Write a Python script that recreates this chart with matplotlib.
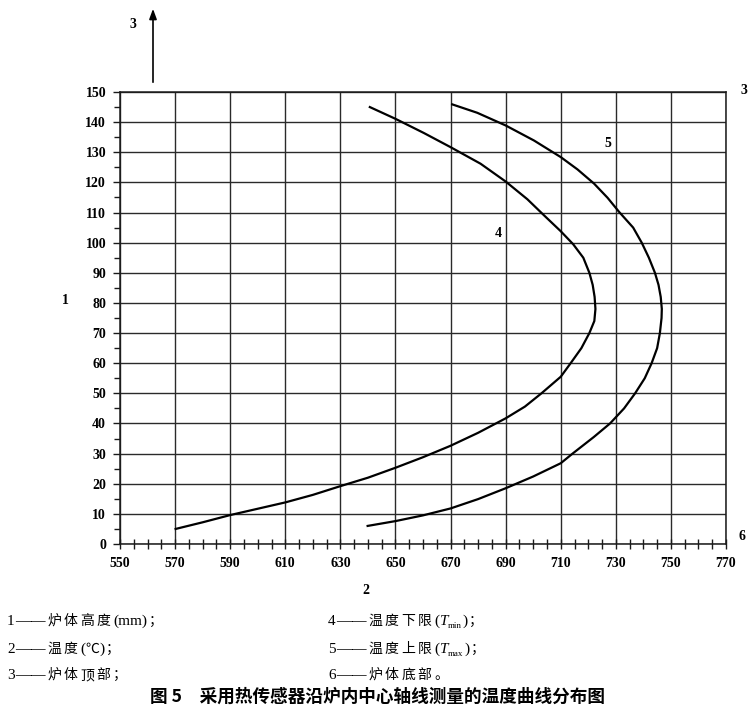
import matplotlib
matplotlib.use("Agg")
import matplotlib.pyplot as plt
from matplotlib.ticker import MultipleLocator
from matplotlib.patches import FancyArrowPatch

plt.rcParams['font.family'] = ['Liberation Serif', 'Noto Sans CJK SC']
plt.rcParams['mathtext.fontset'] = 'stix'

# Data: lower limit (curve 4) and upper limit (curve 5)
tmin_temp = [570.2, 580, 590, 600, 610, 620, 630, 640, 650, 660, 670, 680, 690, 697, 703, 710,
             713.6, 717.5, 720.4, 722.2, 722.6, 722.3, 721.6, 720.4, 718.2, 714.5, 710,
             703.9, 697.9, 690, 680.9, 670, 660.3, 650, 640.7]
tmin_h = [5.0, 7.2, 9.6, 11.7, 13.8, 16.3, 19.2, 22.0, 25.3, 28.8, 32.6, 36.9, 41.7, 45.6, 50.0, 55.5,
          60.0, 65.0, 70.0, 74.0, 78.0, 82.0, 86.0, 90.0, 95.0, 99.5, 103.8,
          109.1, 114.4, 120.3, 126.2, 131.7, 136.4, 141.1, 145.0]

tmax_temp = [639.9, 650, 660, 670, 680, 690, 700, 710, 714.3, 722, 727.9, 733, 737, 740.5,
             743, 745, 746, 746.6, 746.7, 746.3, 745.5, 744.2, 742, 739.4, 736.3, 731.2,
             727, 722.1, 716.1, 710, 700.3, 690, 679.7, 670.6]
tmax_h = [6.0, 7.6, 9.5, 11.8, 14.9, 18.5, 22.4, 26.8, 30.0, 35.5, 40.0, 45.0, 50.0, 55.0,
          60.0, 65.0, 70.0, 75.0, 78.0, 82.0, 86.0, 90.0, 95.0, 100.0, 105.0, 110.2,
          114.9, 119.6, 124.3, 128.4, 133.9, 138.9, 143.1, 145.9]

x_ticks = [550, 570, 590, 610, 630, 650, 670, 690, 710, 730, 750, 770]
y_ticks = [0, 10, 20, 30, 40, 50, 60, 70, 80, 90, 100, 110, 120, 130, 140, 150]

caption = '图 5　采用热传感器沿炉内中心轴线测量的温度曲线分布图'

W, H = 752, 708
fig = plt.figure(figsize=(W/100, H/100), dpi=100)
ax = fig.add_axes([120/W, 1-544/H, (726-120)/W, (544-92)/H])

ink = '#1a1a1a'
ax.plot(tmin_temp, tmin_h, color='black', lw=1.6, zorder=3, solid_joinstyle='round')
ax.plot(tmax_temp, tmax_h, color='black', lw=1.6, zorder=3, solid_joinstyle='round')

ax.set_xlim(550, 770)
ax.set_ylim(0, 150)
ax.set_xticks(x_ticks)
ax.set_yticks(y_ticks)
ax.xaxis.set_minor_locator(MultipleLocator(5))
ax.yaxis.set_minor_locator(MultipleLocator(5))
ax.grid(True, which='major', color='#2a2a2a', lw=1.0)
for s in ax.spines.values():
    s.set_color(ink)
    s.set_linewidth(1.1)

ax.tick_params(axis='x', which='both', direction='inout', length=7, width=1.0, color=ink,
               labelsize=10, pad=6)
ax.tick_params(axis='y', which='major', direction='out', length=5, width=1.0, color=ink,
               labelsize=10, pad=5)
ax.tick_params(axis='y', which='minor', direction='out', length=4.5, width=1.0, color=ink)
for lab in ax.get_xticklabels() + ax.get_yticklabels():
    lab.set_fontweight('bold')

ax.text(687.2, 102.9, '4', fontsize=10, fontweight='bold', ha='center', va='center')
ax.text(727.1, 132.8, '5', fontsize=10, fontweight='bold', ha='center', va='center')

# arrow and outer labels
fig.add_artist(FancyArrowPatch((153/W, 1-85/H), (153/W, 1-6/H),
               transform=fig.transFigure, arrowstyle='-|>,head_length=6,head_width=2.2',
               color='black', lw=1.2, mutation_scale=1))
for (px, py, t) in [(133, 25, '3'), (65, 300, '1'), (366, 590, '2'), (744, 90, '3'), (742, 537, '6')]:
    fig.text(px/W, 1-py/H, t, fontsize=10, fontweight='bold', ha='center', va='center')

# legend rows drawn piece by piece
renderer = fig.canvas.get_renderer()
SER = dict(family=['Liberation Serif'], fontsize=11)
CJK = dict(family=['Noto Sans CJK SC'], fontsize=10)


def draw_row(x, y, segs):
    for text, kw, dy, gap in segs:
        t = fig.text(x/W, 1-(y+dy)/H, text, ha='left', va='baseline', **kw)
        x += t.get_window_extent(renderer).width + gap


def cjk(s, gap=2.6):
    return [(c, CJK, 0, gap) for c in s]


def row_head(n):
    return [(n, SER, 0, 0.5), ('——', SER, 0, 1.5)]


base = [625, 653, 679]
draw_row(7, base[0], row_head('1') + cjk('炉体高度') + [('(mm)', SER, 0, 1.5), ('；', CJK, 0, 0)])
draw_row(7, base[1], row_head('2') + cjk('温度') + [('(', SER, 0, 0), ('℃', CJK, 0, 0),
                                                      (')', SER, 0, 1.5), ('；', CJK, 0, 0)])
draw_row(7, base[2], row_head('3') + cjk('炉体顶部') + [('；', CJK, 0, 0)])

draw_row(328, base[0], row_head('4') + cjk('温度下限') + [
    ('(', SER, 0, 0.5), ('T', dict(SER, style='italic'), 0, 0),
    ('min', dict(family=['Liberation Serif'], fontsize=6.5), 2.5, 0.8),
    (')', SER, 0, 1.5), ('；', CJK, 0, 0)])
draw_row(328, base[1], row_head('5') + cjk('温度上限') + [
    ('(', SER, 0, 0.5), ('T', dict(SER, style='italic'), 0, 0),
    ('max', dict(family=['Liberation Serif'], fontsize=6.5), 2.5, 0.8),
    (')', SER, 0, 1.5), ('；', CJK, 0, 0)])
draw_row(328, base[2], row_head('6') + cjk('炉体底部') + [('。', CJK, 0, 0)])

fig.text(378/W, 1-697/H, caption, fontsize=12.7, fontweight='bold', ha='center', va='center',
         family=['Noto Sans CJK SC', 'DejaVu Sans'])

fig.savefig('out.png', dpi=100)
